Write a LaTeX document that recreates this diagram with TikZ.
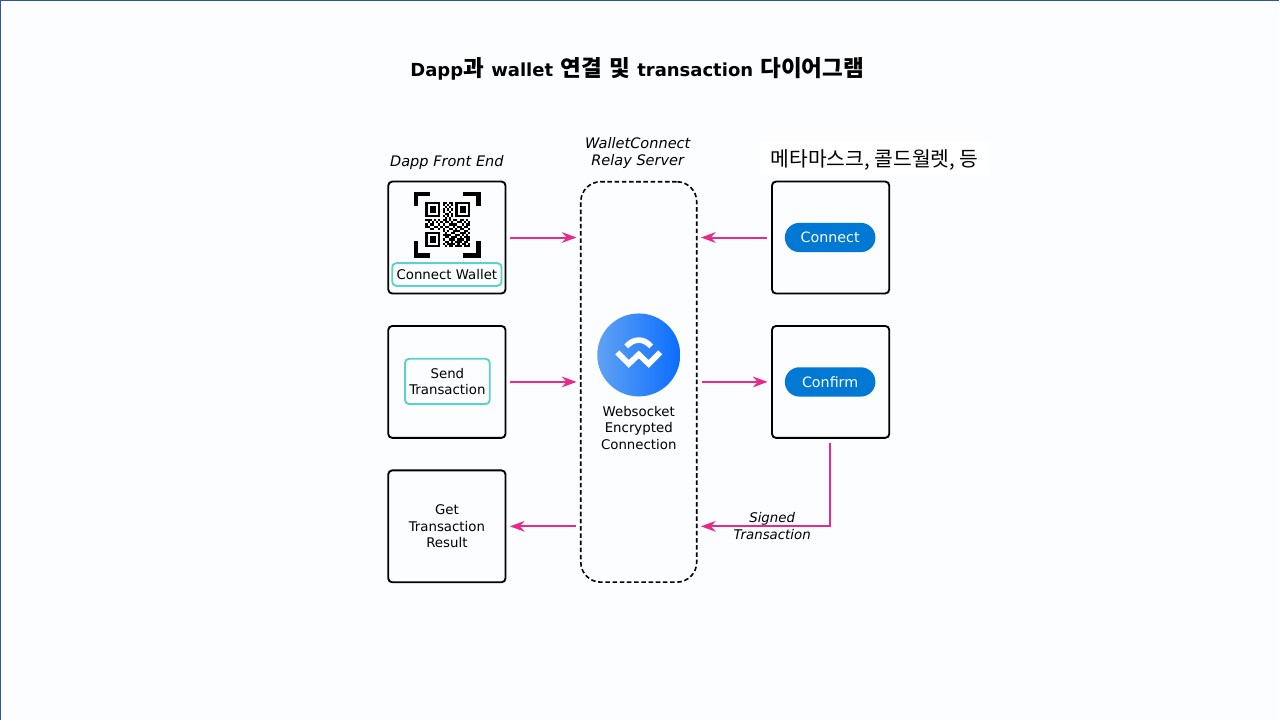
\documentclass[tikz,border=0pt]{standalone}
\usepackage{fontspec}
\setmainfont{DejaVu Sans}
\newfontfamily\krfont{Noto Sans CJK KR}
\newfontfamily\krmedium{Noto Sans CJK KR Medium}
\usetikzlibrary{positioning,arrows.meta}
\definecolor{bgpage}{HTML}{FBFDFF}
\definecolor{edgeblue}{HTML}{2F5597}
\definecolor{linkpink}{HTML}{E6298A}
\definecolor{tealbox}{HTML}{5FCFC9}
\definecolor{pillblue}{HTML}{0078D4}
\definecolor{logoleft}{HTML}{5FA2F4}
\definecolor{logoright}{HTML}{0B6DFF}
\newcommand{\krtitle}[1]{{\krmedium\fontsize{16.9}{18}\selectfont #1}}
\tikzset{
  panel/.style={draw=black,line width=1.4pt,rounded corners=3pt,minimum width=88pt,minimum height=84pt,inner sep=0pt,align=center,font=\fontsize{10}{12.5}\selectfont},
  relaybox/.style={draw=black,line width=1.2pt,dash pattern=on 3.4pt off 2pt,rounded corners=15pt,minimum width=87pt,minimum height=300.5pt},
  tealframe/.style={draw=tealbox,line width=1.4pt,rounded corners=3pt,inner sep=0pt,align=center,font=\fontsize{10}{12.5}\selectfont},
  pill/.style={fill=pillblue,text=white,rounded corners=11pt,minimum width=68pt,minimum height=22pt,inner sep=0pt,font=\fontsize{10.7}{11}\selectfont},
  headlabel/.style={align=center,font=\itshape\fontsize{10.9}{12.8}\selectfont},
  link/.style={draw=linkpink,line width=1.5pt,-{Stealth[length=11pt,width=8pt]},shorten >=2.6pt,shorten <=3pt}
}
\begin{document}
\begin{tikzpicture}[x=0.75pt,y=-0.75pt]
  \fill[bgpage] (0,0) rectangle (1280,720);
  \draw[edgeblue,line width=1pt] (0.5,720) -- (0.5,0.5) -- (1280,0.5);
  \useasboundingbox (0,0) rectangle (1280,720);

  % title
  \node (title) at (637.5,68.5) {\bfseries\fontsize{13.5}{18}\selectfont\spaceskip=5.5pt Dapp\krtitle{과} wallet \krtitle{연결} \krtitle{및} transaction \krtitle{다이어그램}};

  % panels, left column then right column
  \node[panel] (qrbox) at (447,237.5) {};
  \node[panel] (sendbox) at (447,382) {};
  \node[panel] (resultbox) at (447,526.5) {Get\\Transaction\\Result};
  \node[panel] (connectbox) at (831,237.5) {};
  \node[panel] (confirmbox) at (831,382) {};
  \node[relaybox] (relay) at (639,382) {};

  % headings
  \node[headlabel] (fronthead) at (447,162) {Dapp Front End};
  \node[headlabel] (relayhead) at (638,153) {WalletConnect\\Relay Server};
  \node[fill=white,inner sep=0pt,minimum width=172pt,minimum height=26pt,text height=13pt,text depth=0pt,font=\krfont\fontsize{15.3}{18}\selectfont] (wallethead) at (875,158) {메타마스크, 콜드월렛, 등};

  % buttons
  \node[tealframe,minimum width=82pt,minimum height=17pt] (connectwallet) at (447,274.5) {Connect Wallet};
  \node[tealframe,minimum width=63.5pt,minimum height=34pt] (sendtx) at (447.5,381.5) {Send\\Transaction};
  \node[pill] (connectpill) at (830.5,237.5) {Connect};
  \node[pill] (confirmpill) at (830.5,382) {Confirm};

  % brackets round the code
  \draw[black,line width=3.4pt] (430,194) -- (416,194) -- (416,206);
  \draw[black,line width=3.4pt] (463,194) -- (478.5,194) -- (478.5,206);
  \draw[black,line width=3.4pt] (430,255.5) -- (416,255.5) -- (416,241);
  \draw[black,line width=3.4pt] (463,255.5) -- (478.5,255.5) -- (478.5,241);

  % finder squares
  \foreach \fx/\fy in {425.5/202,455.5/202,425.5/232}{
    \draw[black,line width=1.6pt] (\fx+1.1,\fy+1.1) rectangle (\fx+13.9,\fy+13.9);
    \fill[black] (\fx+4.3,\fy+4.3) rectangle (\fx+10.7,\fy+10.7);
  }
  % data modules
  \foreach \qx/\qy in {8/0,9/0,11/0,12/0,8/1,10/1,12/1,9/2,11/2,8/3,10/3,12/3,8/4,11/4,9/5,10/5,12/5,8/6,10/6,12/6,9/7,11/7,
    0/8,1/8,2/8,4/8,6/8,8/8,9/8,11/8,13/8,14/8,16/8,17/8,19/8,
    1/9,3/9,5/9,7/9,9/9,10/9,12/9,15/9,16/9,18/9,20/9,
    0/10,2/10,3/10,6/10,8/10,11/10,12/10,13/10,14/10,17/10,19/10,20/10,
    0/11,1/11,4/11,5/11,7/11,9/11,10/11,13/11,15/11,16/11,18/11,19/11,
    2/12,3/12,6/12,8/12,11/12,12/12,14/12,16/12,17/12,20/12,
    8/13,10/13,13/13,14/13,15/13,18/13,19/13,
    9/14,12/14,13/14,16/14,17/14,18/14,20/14,
    8/15,9/15,10/15,11/15,14/15,15/15,17/15,19/15,
    9/16,10/16,12/16,13/16,14/16,16/16,18/16,19/16,20/16,
    8/17,11/17,12/17,13/17,15/17,16/17,17/17,19/17,20/17,
    9/18,10/18,12/18,14/18,15/18,16/18,18/18,19/18,
    8/19,10/19,11/19,12/19,13/19,15/19,17/19,18/19,20/19,
    9/20,11/20,12/20,14/20,15/20,16/20,18/20,19/20,20/20}{
    \fill[black] (425.5+\qx*2.14,202+\qy*2.14) rectangle ++(2.14,2.14);
  }

  % logo
  \shade[left color=logoleft,right color=logoright] (639,355) circle[radius=41.5];
  \draw[white,line width=4.2pt,line join=miter] (617.5,352.5) -- (629,364) -- (639,354.5) -- (649,364) -- (660.5,352.5);
  \draw[white,line width=4.2pt] (626.5,346.5) .. controls (634,338) and (644,338) .. (651.5,346.5);
  \node[align=center,font=\fontsize{10}{12.5}\selectfont] (logotext) at (639,428) {Websocket\\Encrypted\\Connection};

  % links
  \draw[link] (qrbox.east) -- (qrbox.east -| relay.west);
  \draw[link] (connectbox.west) -- (connectbox.west -| relay.east);
  \draw[link] (sendbox.east) -- (sendbox.east -| relay.west);
  \draw[link] (sendbox.east -| relay.east) -- (confirmbox.west);
  \draw[link] (resultbox.east -| relay.west) -- (resultbox.east);
  \draw[link] (confirmpill |- confirmbox.south) |- (resultbox.east -| relay.east);
  \node[headlabel,font=\itshape\fontsize{10}{12.5}\selectfont] (signedlabel) at (772.5,526) {Signed\\Transaction};
\end{tikzpicture}
\end{document}
